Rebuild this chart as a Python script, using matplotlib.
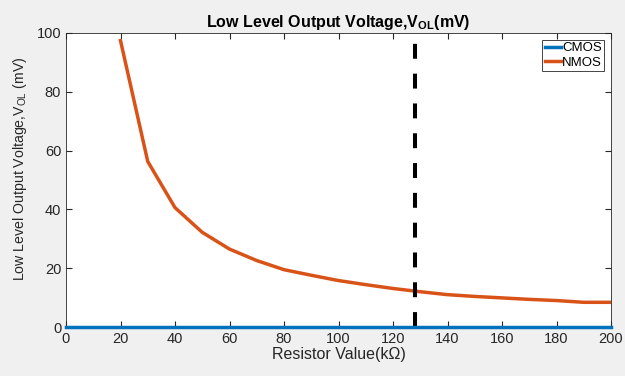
import matplotlib
matplotlib.use('Agg')
import matplotlib.pyplot as plt

plt.rcParams['font.family'] = ['Liberation Sans', 'DejaVu Sans']
plt.rcParams['mathtext.fontset'] = 'custom'
plt.rcParams['mathtext.rm'] = 'Liberation Sans'
plt.rcParams['mathtext.bf'] = 'Liberation Sans:bold'

# data
r_cmos = [0, 200]
v_cmos = [0, 0]
r_nmos = [20, 30, 40, 50, 60, 70, 80, 90, 100, 110, 120, 130, 140, 150, 160, 170, 180, 190, 200]
v_nmos = [97.4, 56.3, 40.6, 32.2, 26.5, 22.6, 19.5, 17.6, 15.8, 14.4, 13.1, 12.0, 11.0, 10.4, 9.9, 9.4, 9.0, 8.4, 8.4]
r_mark = 128
xticks = list(range(0, 201, 20))
yticks = list(range(0, 101, 20))

fig = plt.figure(figsize=(6.25, 3.76), dpi=100, facecolor='#f0f0f0')
ax = fig.add_axes([0.1056, 0.1303, 0.872, 0.782])

ax.plot(r_cmos, v_cmos, color='#0072bd', lw=2.5, label='CMOS', clip_on=False, zorder=3)
ax.plot(r_nmos, v_nmos, color='#d95319', lw=2.5, label='NMOS')
ax.plot([r_mark, r_mark], [0, 100], color='k', ls='--', lw=2.9, dashes=(3.7, 3.7))

ax.set_xlim(0, 200)
ax.set_ylim(0, 100)
ax.set_xticks(xticks)
ax.set_yticks(yticks)
ax.tick_params(direction='in', top=True, right=True, labelsize=10.5, colors='#262626', length=4)
for s in ax.spines.values():
    s.set_color('#262626')
    s.set_linewidth(0.6)

ax.set_title('Low Level Output Voltage,V$_{\\mathbf{OL}}$(mV)', fontsize=11.5, fontweight='bold', pad=4)
ax.set_xlabel('Resistor Value(k\u03a9)', fontsize=11.5, labelpad=1, color='#262626')
ax.set_ylabel('Low Level Output Voltage,V$_{\\mathrm{OL}}$ (mV)', fontsize=10.2, color='#262626')
ax.yaxis.set_label_coords(-0.068, 0.54)

leg = ax.legend(loc='upper right', fontsize=9.5, handlelength=1.2, handletextpad=0.1,
                borderpad=0.2, labelspacing=0.15, fancybox=False, framealpha=1,
                borderaxespad=0.5)
leg.get_frame().set_edgecolor('#262626')
leg.get_frame().set_linewidth(0.6)

fig.savefig('out.png', dpi=100, facecolor=fig.get_facecolor())
